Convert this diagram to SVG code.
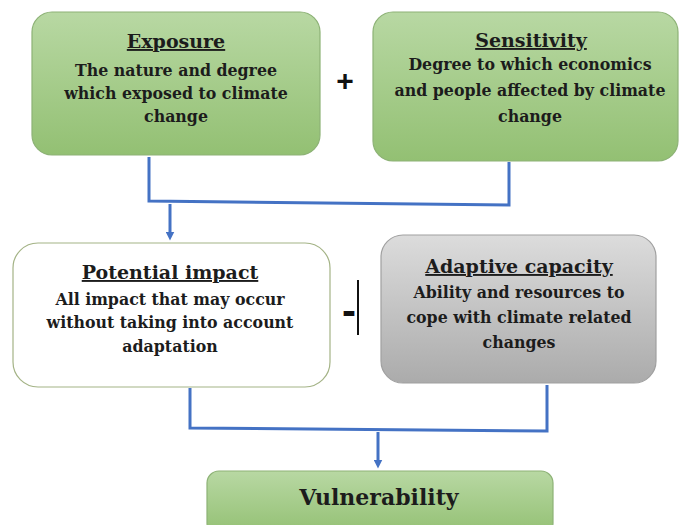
<svg xmlns="http://www.w3.org/2000/svg" width="679" height="525" viewBox="0 0 679 525">
<defs>
<linearGradient id="gGreen" x1="0" y1="0" x2="0" y2="1">
<stop offset="0" stop-color="#b8d8a3"/>
<stop offset="1" stop-color="#93c073"/>
</linearGradient>
<linearGradient id="gGray" x1="0" y1="0" x2="0" y2="1">
<stop offset="0" stop-color="#dcdcdc"/>
<stop offset="1" stop-color="#ababab"/>
</linearGradient>
<marker id="ah" viewBox="0 0 10 10" refX="5" refY="5" markerWidth="3" markerHeight="3" orient="auto">
<path d="M0,0 L10,5 L0,10 z" fill="#4472c4"/>
</marker>
<style>
.green{fill:url(#gGreen);stroke:#8db276;stroke-width:1.2}
.gray{fill:url(#gGray);stroke:#a0a0a0;stroke-width:1.2}
.white{fill:#ffffff;stroke:#a4b386;stroke-width:1.2}
.txt text{font-family:'DejaVu Serif',serif;font-weight:bold;fill:#1c1c1c;text-anchor:middle}
.t{font-size:19px;text-decoration:underline}
.b{font-size:15.8px}
.v{font-size:22px}
.conn{fill:none;stroke:#4472c4;stroke-width:3}
.sign{font-family:'Liberation Sans',Arial,sans-serif;fill:#111;font-weight:bold;text-anchor:middle}
</style>
</defs>
<rect width="679" height="525" fill="#ffffff"/>
<g id="exposure" class="txt">
<rect class="green" x="32" y="12" width="288" height="143" rx="20"/>
<text class="t" x="176" y="48">Exposure</text>
<text class="b" x="176" y="76">The nature and degree</text>
<text class="b" x="176" y="99">which exposed to climate</text>
<text class="b" x="176" y="122">change</text>
</g>
<g id="sensitivity" class="txt">
<rect class="green" x="373" y="12" width="305" height="149" rx="20"/>
<text class="t" x="531" y="47">Sensitivity</text>
<text class="b" x="530" y="70">Degree to which economics</text>
<text class="b" x="530" y="96">and people affected by climate</text>
<text class="b" x="530" y="122">change</text>
</g>
<g id="potential-impact" class="txt">
<rect class="white" x="13" y="243" width="317" height="144" rx="25"/>
<text class="t" x="170" y="279">Potential impact</text>
<text class="b" x="170" y="305">All impact that may occur</text>
<text class="b" x="170" y="328">without taking into account</text>
<text class="b" x="170" y="352">adaptation</text>
</g>
<g id="adaptive-capacity" class="txt">
<rect class="gray" x="381" y="235" width="275" height="148" rx="22"/>
<text class="t" x="519" y="273">Adaptive capacity</text>
<text class="b" x="519" y="298">Ability and resources to</text>
<text class="b" x="519" y="323">cope with climate related</text>
<text class="b" x="519" y="348">changes</text>
</g>
<g id="vulnerability" class="txt">
<rect class="green" x="207" y="471" width="346" height="64" rx="12"/>
<text class="v" x="379" y="505">Vulnerability</text>
</g>
<g id="operators">
<text class="sign" x="345" y="91" font-size="30">+</text>
<text class="sign" x="349" y="325" font-size="42">-</text>
<line x1="358" y1="280" x2="358" y2="335" stroke="#111" stroke-width="2"/>
</g>
<g id="connectors">
<path class="conn" d="M149,157 V201 L509,205 V162"/>
<line class="conn" x1="170" y1="204" x2="170" y2="236" marker-end="url(#ah)"/>
<path class="conn" d="M190,388 V428 L547,431 V385"/>
<line class="conn" x1="378" y1="432" x2="378" y2="464" marker-end="url(#ah)"/>
</g>
</svg>
